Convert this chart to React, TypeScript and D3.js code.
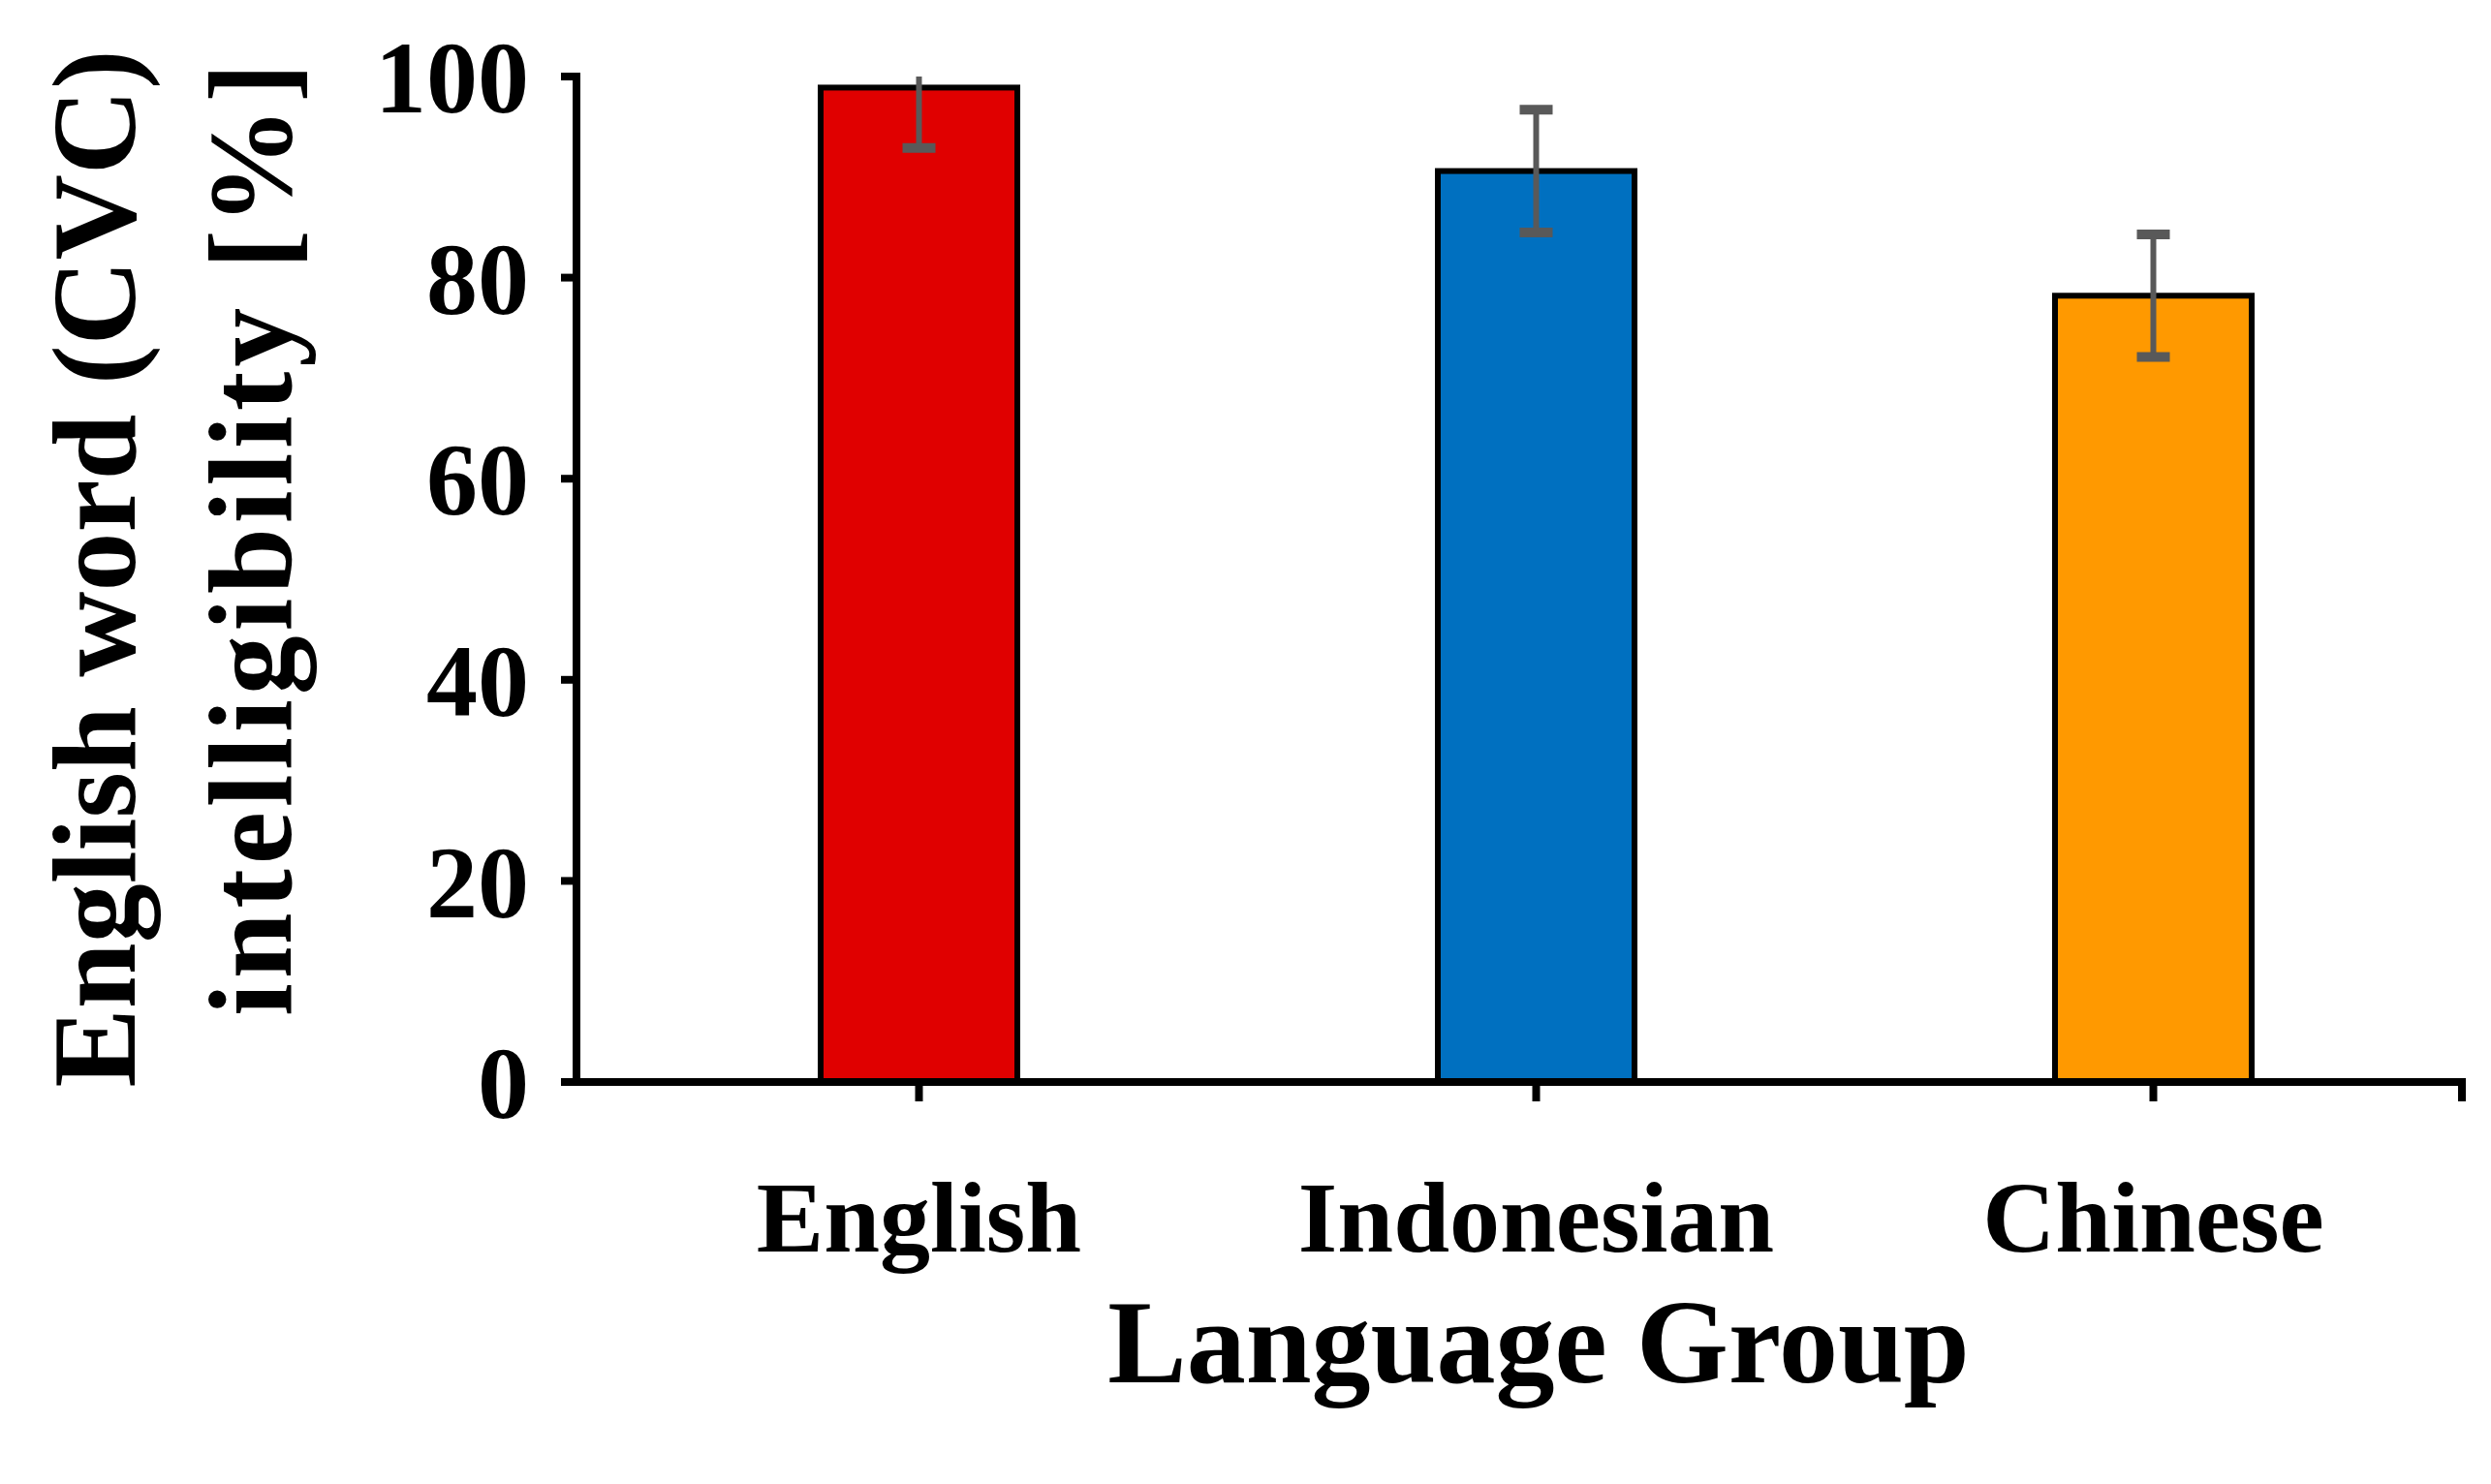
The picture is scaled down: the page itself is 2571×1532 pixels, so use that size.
import React from "react";
import * as d3 from "d3";

const categories = ["English", "Indonesian", "Chinese"];
const means = [98.9, 90.6, 78.2];
const errors = [6.0, 6.1, 6.1];
const barColors = ["#E00000", "#0070C0", "#FF9900"];
const yTicks = [0, 20, 40, 60, 80, 100];
const xTitle = "Language Group";
const yTitle1 = "English word (CVC)";
const yTitle2 = "intelligibility [%]";

const W = 2571;
const H = 1532;
const FONT = "'Liberation Serif', 'Times New Roman', serif";

export default function App() {
  const axisX = 595;
  const x = d3.scaleBand<string>().domain(categories).range([630, 2541]).paddingInner(0).paddingOuter(0);
  const y = d3.scaleLinear().domain([0, 100]).range([1117, 79]);
  const barW = 203;
  const capW = 34;
  const clip = (v: number) => Math.min(100, Math.max(0, v));

  return (
    <svg width={W} height={H} style={{ position: "absolute", left: 0, top: 0, background: "#fff" }}>
      {/* bars */}
      {categories.map((c, i) => {
        const cx = x(c)! + x.bandwidth() / 2;
        return (
          <rect key={c} x={cx - barW / 2} y={y(means[i])} width={barW} height={y(0) - y(means[i])}
            fill={barColors[i]} stroke="#000" strokeWidth={6} />
        );
      })}
      {/* error bars */}
      {categories.map((c, i) => {
        const cx = x(c)! + x.bandwidth() / 2;
        const hiRaw = means[i] + errors[i];
        const hi = clip(hiRaw);
        const lo = clip(means[i] - errors[i]);
        return (
          <g key={c + "err"} stroke="#595959" strokeWidth={6}>
            <line x1={cx} x2={cx} y1={y(hi)} y2={y(lo)} />
            {hiRaw <= 100 && <line x1={cx - capW / 2} x2={cx + capW / 2} y1={y(hi)} y2={y(hi)} strokeWidth={10} />}
            <line x1={cx - capW / 2} x2={cx + capW / 2} y1={y(lo)} y2={y(lo)} strokeWidth={10} />
          </g>
        );
      })}
      {/* y axis */}
      <line x1={axisX} x2={axisX} y1={y(100) - 4} y2={y(0)} stroke="#000" strokeWidth={8} />
      {yTicks.map((t) => (
        <g key={t}>
          <line x1={axisX - 16} x2={axisX} y1={y(t)} y2={y(t)} stroke="#000" strokeWidth={8} />
          <text x={546} y={y(t)} dy="0.35em" textAnchor="end" fontFamily={FONT} fontWeight="bold" fontSize={106} fill="#000">
            {t}
          </text>
        </g>
      ))}
      {/* x axis */}
      <line x1={axisX - 16} x2={2541 + 4} y1={y(0)} y2={y(0)} stroke="#000" strokeWidth={8} />
      {[...categories.map((c) => x(c)! + x.bandwidth() / 2), 2541].map((tx, i) => (
        <line key={"xt" + i} x1={tx} x2={tx} y1={y(0)} y2={y(0) + 20} stroke="#000" strokeWidth={8} />
      ))}
      {categories.map((c) => (
        <text key={c + "lbl"} x={x(c)! + x.bandwidth() / 2} y={1292} textAnchor="middle" fontFamily={FONT}
          fontWeight="bold" fontSize={104} fill="#000">
          {c}
        </text>
      ))}
      {/* titles */}
      <text x={1588} y={1427} textAnchor="middle" fontFamily={FONT} fontWeight="bold" fontSize={122} fill="#000">
        {xTitle}
      </text>
      <text transform={`translate(139,587) rotate(-90)`} textAnchor="middle" fontFamily={FONT} fontWeight="bold"
        fontSize={122} fill="#000">
        {yTitle1}
      </text>
      <text transform={`translate(300,557) rotate(-90)`} textAnchor="middle" fontFamily={FONT} fontWeight="bold"
        fontSize={122} fill="#000" textLength={984} lengthAdjust="spacing">
        {yTitle2}
      </text>
    </svg>
  );
}
